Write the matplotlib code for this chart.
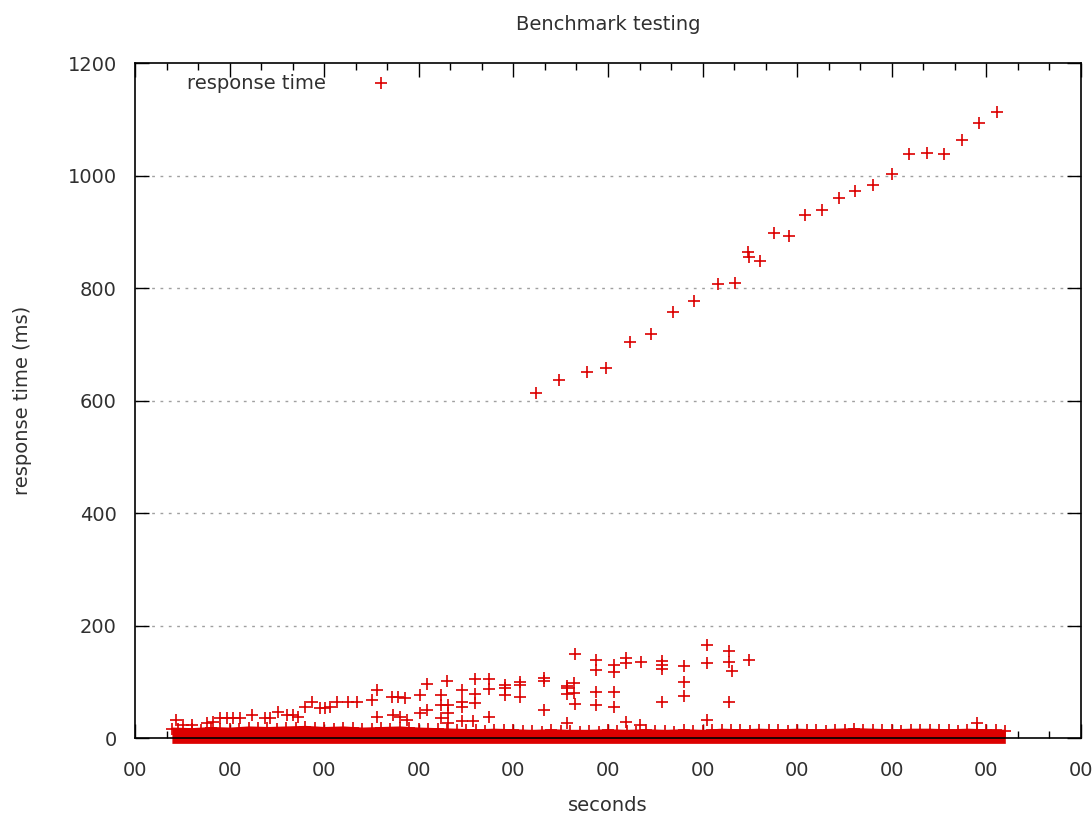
import matplotlib
matplotlib.use('Agg')
import matplotlib.pyplot as plt
from matplotlib.ticker import MultipleLocator, FixedLocator

# colour of the gnuplot points
rojo = '#dc0000'

# dense band at the bottom (top edge of the solid red, ms)
band_x = [0.39, 0.6, 0.8, 1.0, 1.2, 1.4, 1.6, 1.8, 2.0, 2.2, 2.4, 2.6, 2.8, 3.0, 3.2,
          3.4, 3.6, 3.8, 4.0, 4.2, 4.4, 4.6, 4.8, 5.0, 5.2, 5.4, 5.6, 5.8, 6.0, 6.2,
          6.4, 6.6, 6.8, 7.0, 7.2, 7.4, 7.6, 7.8, 8.0, 8.2, 8.4, 8.6, 8.8, 9.0, 9.2]
band_top = [20, 19, 21, 20, 22, 21, 22, 23, 21, 22, 20, 21, 22, 20, 19,
            18, 17, 18, 17, 16, 17, 16, 16, 17, 16, 17, 16, 17, 16, 18,
            17, 18, 17, 18, 17, 18, 19, 18, 17, 18, 18, 17, 18, 17, 16]

# fuzzy tips sticking out of the band (ms)
fuzz_x = [0.45, 0.7, 0.9, 1.1, 1.3, 1.5, 1.7, 1.9, 2.1, 2.3, 2.5, 2.7, 2.9, 3.1, 3.3,
          3.5, 3.7, 3.9, 4.1, 4.3, 4.5, 4.7, 4.9, 5.1, 5.3, 5.5, 5.7, 5.9, 6.1, 6.3,
          6.5, 6.7, 6.9, 7.1, 7.3, 7.5, 7.7, 7.9, 8.1, 8.3, 8.5, 8.7, 8.9, 9.1]
fuzz_y = [16, 15, 17, 16, 18, 17, 18, 19, 17, 18, 16, 17, 18, 16, 15,
          14, 13, 14, 13, 12, 13, 12, 12, 13, 12, 13, 12, 13, 14, 15,
          13, 14, 13, 14, 13, 14, 15, 14, 13, 14, 14, 13, 15, 14]

# scattered points between 20 and 170 ms
mid_x = [0.430, 0.511, 0.599, 0.758, 0.828, 0.899, 0.969, 1.039, 1.110, 1.234,
         1.374, 1.427, 1.515, 1.604, 1.673, 1.726, 1.797, 1.868, 1.956, 2.008,
         2.061, 2.138, 2.255, 2.344, 2.502, 2.555, 2.714, 2.783, 2.854, 3.013,
         2.555, 2.730, 2.801, 2.872, 3.013, 3.084, 3.084, 3.232, 3.232, 3.232,
         3.312, 3.312, 3.301, 3.454, 3.454, 3.454, 3.454, 3.594, 3.594, 3.594,
         3.576, 3.745, 3.745, 3.745, 3.911, 3.911, 3.911, 4.070, 4.070, 4.070,
         4.323, 4.323, 4.323, 4.563, 4.563, 4.563, 4.641, 4.641, 4.651, 4.651,
         4.873, 4.873, 4.873, 4.873, 5.063, 5.063, 5.063, 5.063, 5.190, 5.190,
         5.346, 5.568, 5.568, 5.568, 5.568, 5.803, 5.803, 5.803, 6.043, 6.043,
         6.282, 6.282, 6.308, 6.282, 6.494, 5.190, 5.338, 6.043, 4.563, 8.897,
         3.310]
mid_y = [32.5, 23.6, 23.6, 26.7, 29.5, 35.6, 35.6, 35.6, 35.6, 41.4,
         35.6, 35.6, 47.3, 41.4, 41.4, 38.4, 56.2, 65.1, 53.3, 53.3,
         56.2, 65.1, 65.1, 65.1, 68.1, 85.9, 74.0, 74.0, 71.1, 77.0,
         38.4, 41.4, 38.4, 32.5, 44.4, 50.3, 96.0, 77.0, 59.2, 36.6,
         59.2, 44.4, 102.4, 85.9, 65.1, 55.1, 31.3, 105.4, 78.8, 63.3,
         31.3, 105.4, 87.1, 38.4, 94.8, 88.9, 77.0, 100.6, 94.8, 72.9,
         106.7, 101.9, 50.3, 93.5, 88.9, 78.8, 97.8, 80.0, 61.0, 149.3,
         139.2, 121.4, 82.8, 59.2, 130.3, 118.4, 82.8, 55.1, 142.2, 133.3,
         135.1, 138.0, 130.3, 122.7, 65.1, 128.5, 100.6, 75.7, 165.9, 134.4,
         155.7, 135.1, 120.2, 65.1, 139.2, 29.5, 23.6, 32.5, 26.7, 26.7,
         27.0]

# rising series from ~600 to ~1100 ms
ramp_x = [4.239, 4.479, 4.775, 4.979, 5.233, 5.455, 5.690, 5.909, 6.166, 6.343,
          6.477, 6.494, 6.607, 6.755, 6.917, 7.082, 7.262, 7.439, 7.614, 7.804,
          7.999, 8.179, 8.369, 8.552, 8.745, 8.922, 9.109]
ramp_y = [614, 637, 652, 658, 704, 719, 757, 778, 807, 809,
          864, 856, 849, 898, 893, 930, 939, 961, 973, 983,
          1003, 1038, 1040, 1038, 1063, 1093, 1113]

y_ticks = [0, 200, 400, 600, 800, 1000, 1200]
x_ticks = list(range(11))
x_labels = ['00'] * 11

plt.rcParams['font.family'] = ['DejaVu Sans']
fig = plt.figure(figsize=(10.92, 8.14), dpi=100)
ax = fig.add_axes([135 / 1092, 1 - 738.3 / 814, 946 / 1092, 675 / 814])

# banda densa
band_bot = [-9] * len(band_x)
ax.fill_between(band_x, band_bot, band_top, color=rojo, lw=0, clip_on=False, zorder=3)
ax.plot(band_x, [t - 3 for t in band_top], '+', color=rojo, ms=8, mew=1.2,
        clip_on=False, zorder=3)
ax.plot(fuzz_x, fuzz_y, '+', color=rojo, ms=8, mew=1.2, clip_on=False, zorder=3)

# puntos sueltos
ax.plot(mid_x, mid_y, '+', color=rojo, ms=8, mew=1.2, clip_on=False, zorder=3)
ax.plot(ramp_x, ramp_y, '+', color=rojo, ms=8, mew=1.2, clip_on=False, zorder=3,
        label='response time')

ax.set_xlim(0, 10)
ax.set_ylim(0, 1200)
ax.xaxis.set_major_locator(FixedLocator(x_ticks))
ax.set_xticklabels(x_labels)
ax.xaxis.set_minor_locator(MultipleLocator(1 / 3))
ax.set_yticks(y_ticks)

ax.tick_params(which='major', direction='in', length=10, width=1, top=True, right=True,
               labelsize=14, colors='#000000', labelcolor='#303030')
ax.tick_params(which='minor', direction='in', length=5, width=1, top=True, bottom=True)
ax.tick_params(axis='x', pad=16)
ax.tick_params(axis='y', pad=13)

for lado in ax.spines.values():
    lado.set_linewidth(1.2)
    lado.set_zorder(4)

ax.grid(axis='y', color='#a0a0a0', linestyle=(0, (2, 4)), linewidth=1)
for gl, v in zip(ax.get_ygridlines(), y_ticks):
    if v in (0, 1200):
        gl.set_visible(False)
ax.set_axisbelow(True)

ax.set_title('Benchmark testing', fontsize=14, pad=24, color='#303030')
ax.set_xlabel('seconds', fontsize=14, labelpad=12, color='#303030')
ax.set_ylabel('response time (ms)', fontsize=14, labelpad=26, color='#303030')

ax.legend(loc='upper left', bbox_to_anchor=(0.047, 0.995), frameon=False,
          markerfirst=False, fontsize=14, handlelength=2.0, handletextpad=1.8,
          labelcolor='#303030', borderaxespad=0)

fig.savefig('out.png', dpi=100)
